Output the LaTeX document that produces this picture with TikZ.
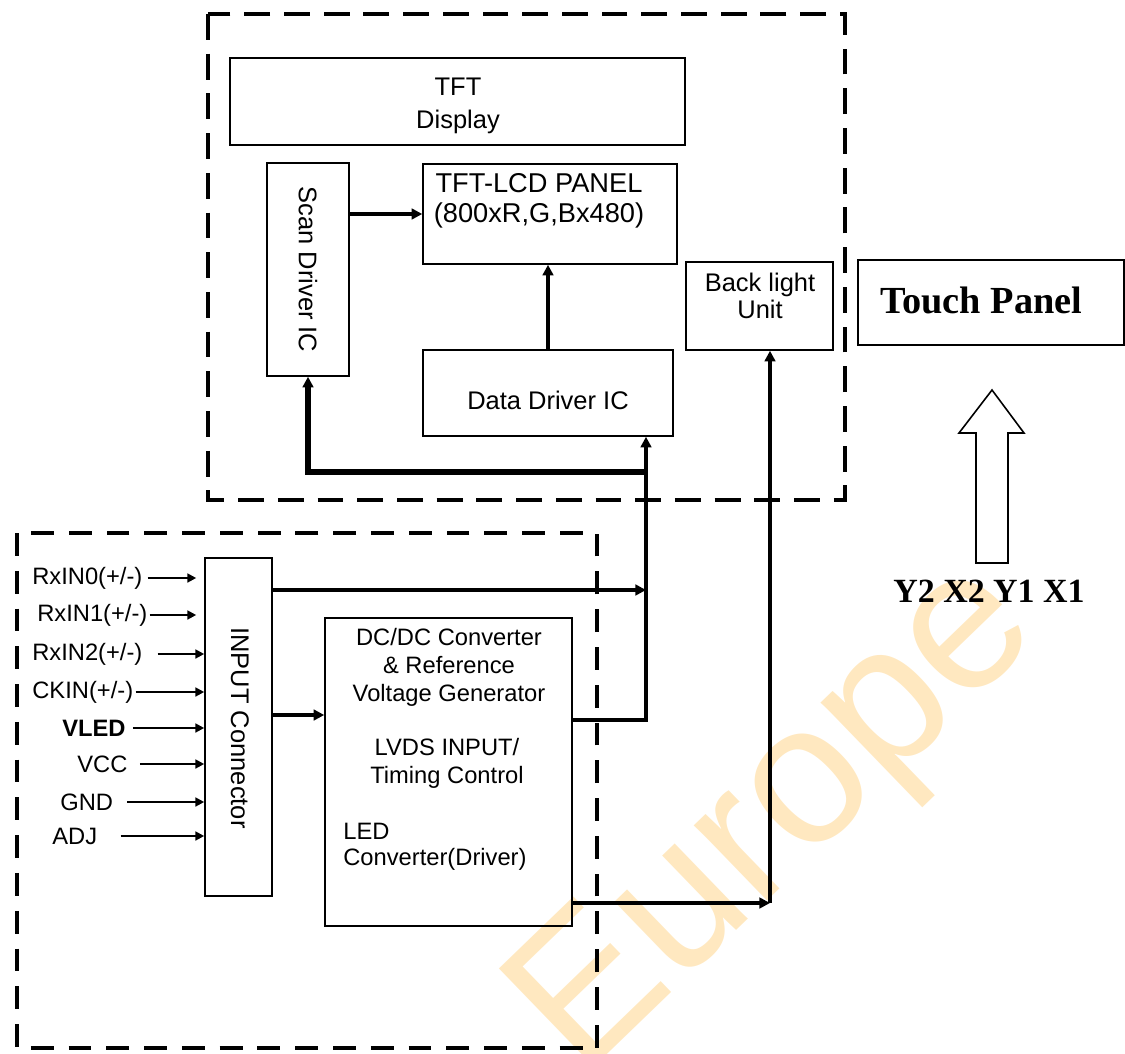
\documentclass[tikz,border=0pt]{standalone}
\usepackage{fontspec}
\setsansfont{Liberation Sans}
\newfontfamily\tpserif{Liberation Serif}
\usepackage{xcolor}
\usetikzlibrary{arrows.meta}
\definecolor{wmark}{RGB}{255,232,192}
\begin{document}
\begin{tikzpicture}[x=0.02cm,y=-0.02cm,>={Triangle[length=6pt,width=6pt]},
  blk/.style={draw,line width=0.9pt,inner sep=0pt},
  bigtxt/.style={inner sep=0pt,align=center,font=\sffamily\fontsize{14.5}{17}\selectfont},
  smalltxt/.style={inner sep=0pt,align=center,font=\sffamily\fontsize{13.5}{16}\selectfont},
  wire/.style={line width=1.8pt},
  bus/.style={line width=3.4pt},
  inwire/.style={line width=1.2pt,-{Triangle[length=5pt,width=5pt]}},
  frameA/.style={line width=2pt,dash pattern=on 14.7pt off 7.9pt},
  frameB/.style={line width=2.8pt,dash pattern=on 13pt off 8.5pt}]
\useasboundingbox (0,0) rectangle (1125,1054);
% watermark
\node[rotate=44,text=wmark,inner sep=0pt,font=\sffamily\fontsize{113}{113}\selectfont] (wm) at (780,822) {Europe};
% frames
\draw[frameA] (208,14) rectangle (845,500);
\draw[frameB] (17,533) rectangle (597,1048);
% display module
\node[blk,minimum width=9.1cm,minimum height=1.74cm] (tft) at (457.5,101.5) {};
\node[bigtxt] (tftlbl) at (458,106) {TFT\\[2pt]Display};
\node[blk,minimum width=1.64cm,minimum height=4.26cm] (scan) at (308,269.5) {};
\node[bigtxt,rotate=-90] (scanlbl) at (scan) {Scan Driver IC};
\node[blk,minimum width=5.08cm,minimum height=2cm] (panel) at (550,214) {};
\node[bigtxt,font=\sffamily\fontsize{15.5}{17}\selectfont] (panellbl) at (539,201) {TFT-LCD PANEL\\(800xR,G,Bx480)};
\node[blk,minimum width=5cm,minimum height=1.72cm] (data) at (548,393) {};
\node[bigtxt] (datalbl) at (548,400) {Data Driver IC};
\node[blk,minimum width=2.94cm,minimum height=1.76cm] (blu) at (759.5,306) {};
\node[bigtxt] (blulbl) at (760,296) {Back light\\[-1.5pt]Unit};
% touch panel
\node[blk,minimum width=5.32cm,minimum height=1.7cm] (touch) at (991,302.5) {};
\node[anchor=west,inner sep=0pt,font=\tpserif\bfseries\fontsize{21.8}{24}\selectfont] (touchlbl) at (880,300) {Touch Panel};
\node[inner sep=0pt,font=\tpserif\bfseries\fontsize{19.3}{21}\selectfont] (tplines) at (989,591) {Y2 X2 Y1 X1};
\draw[line width=0.9pt] (976,563) -- (976,433) -- (959,433) -- (992,390) -- (1024,433) -- (1008,433) -- (1008,563) -- cycle;
% interface board
\node[blk,minimum width=1.34cm,minimum height=6.76cm] (conn) at (238.5,727) {};
\node[bigtxt,rotate=-90] (connlbl) at (240,728) {INPUT Connector};
\node[blk,minimum width=4.94cm,minimum height=6.16cm] (dcdc) at (448.5,772) {};
\node[smalltxt] (dclbl) at (449,667) {DC/DC Converter\\\& Reference\\Voltage Generator};
\node[smalltxt] (lvdslbl) at (447,763) {LVDS INPUT/\\Timing Control};
\node[smalltxt,anchor=west,align=left] (ledlbl) at (343,847) {LED\\[-1pt]Converter(Driver)};
% input pins
\foreach \nm/\txt/\yy/\xx/\gp/\sh in {rx0/{RxIN0(+/-)}/578/32/5/8,rx1/{RxIN1(+/-)}/615/37/2/8,
    rx2/{RxIN2(+/-)}/654/32/15/0,ck/{CKIN(+/-)}/692/32/2/0,vled/{\bfseries VLED}/728/62/7/0,
    vcc/VCC/764/77/12/0,gnd/GND/802/60/14/0,adj/ADJ/836/52/23/0}{
  \node[smalltxt,anchor=west] (\nm) at (\xx,\yy) {\txt};
  \draw[inwire,shorten >=\sh*0.02cm] ([xshift=\gp*0.02cm]\nm.east) -- (conn.west |- \nm.east);
}
% connections
\coordinate (rx) at (646,590);
\coordinate (jn) at (646,720);
\coordinate (tap) at (646,472);
\coordinate (ledj) at (770,903);
\draw[wire,->] (scan.east |- panel.west) -- (panel.west);
\draw[wire,->] (data.north) -- (data.north |- panel.south);
\draw[wire,->] (conn.east |- rx) -- (rx);
\draw[wire,->] ([yshift=0.24cm]conn.east) -- ([yshift=0.24cm]conn.east -| dcdc.west);
\draw[wire] (dcdc.east |- jn) -- (jn) -- (tap);
\draw[wire,->] (tap) -- (tap |- data.south);
\draw[bus,->] (tap) -- (tap -| scan.south) -- (scan.south);
\draw[wire,->] (dcdc.east |- ledj) -- (ledj);
\draw[wire,->] (ledj) -- (ledj |- blu.south);
\end{tikzpicture}
\end{document}
